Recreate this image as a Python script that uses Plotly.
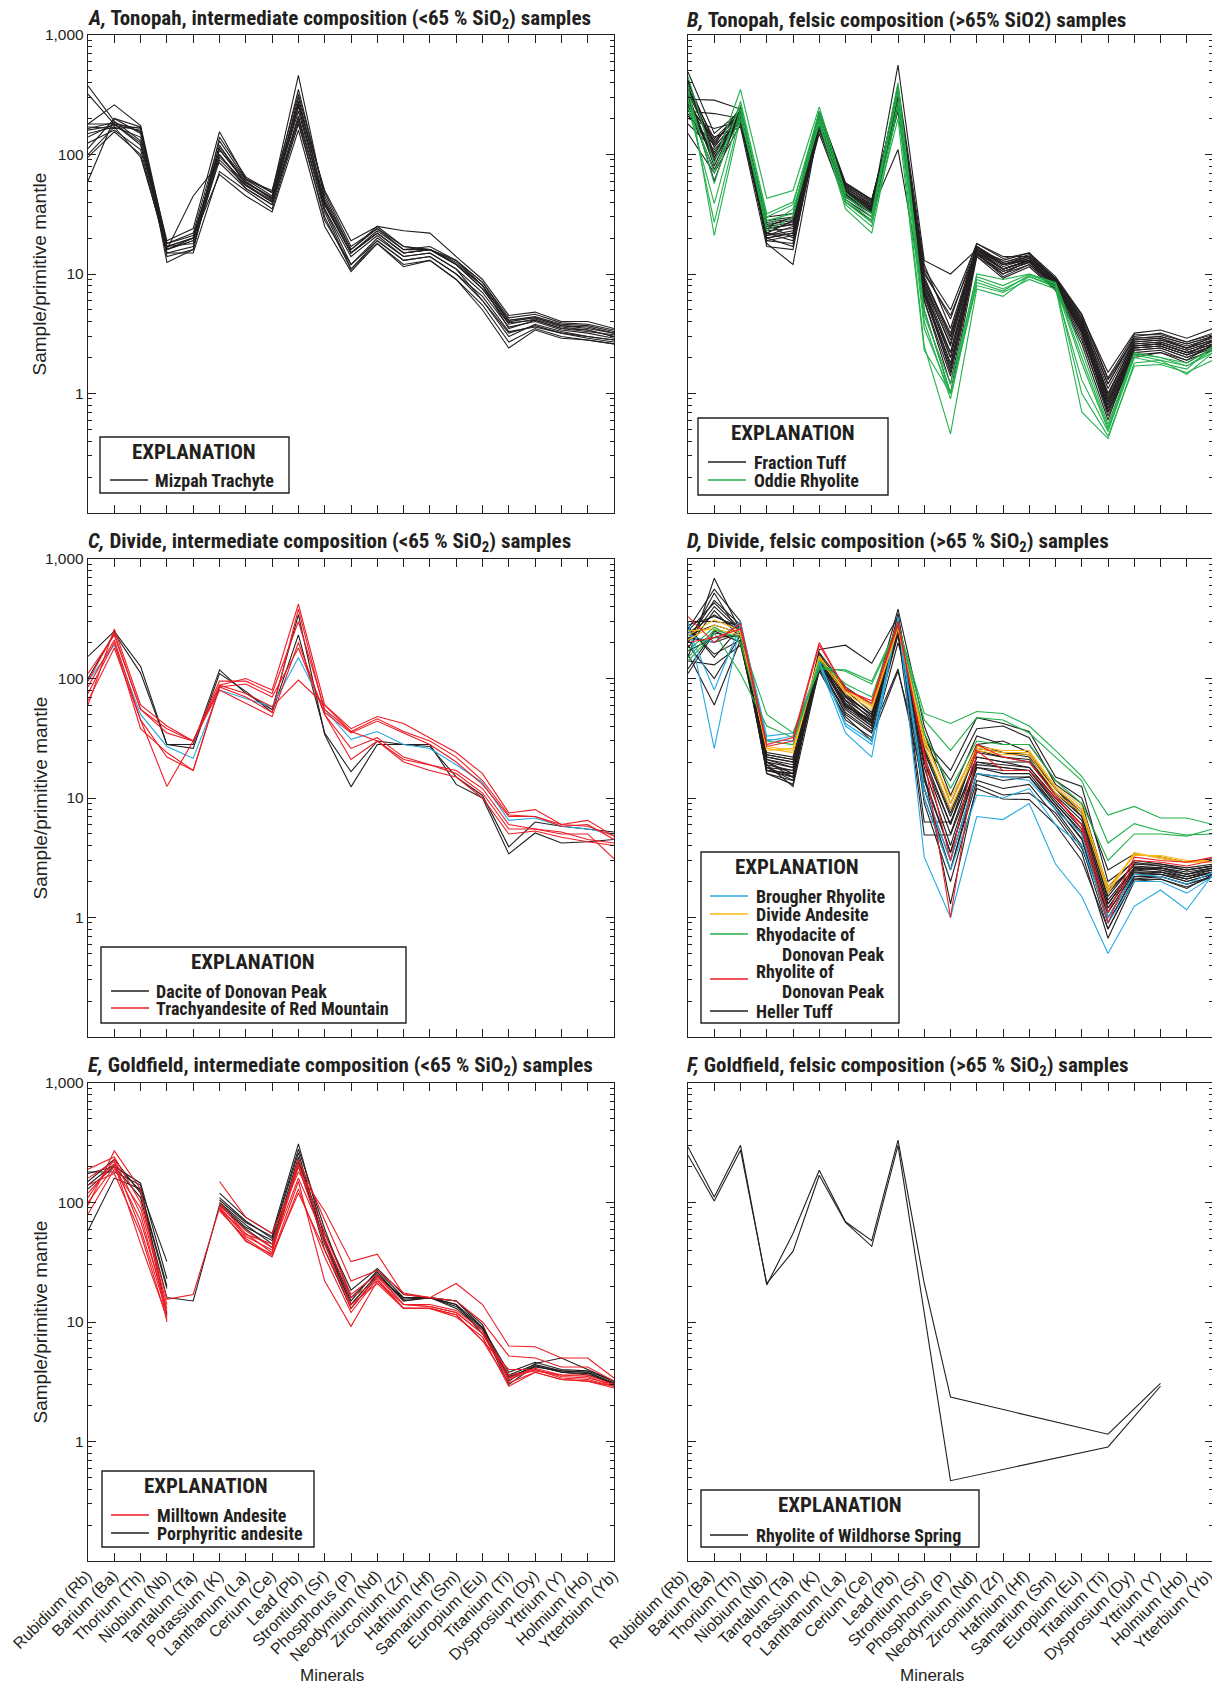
import plotly.graph_objects as go

elements = ["Rubidium (Rb)", "Barium (Ba)", "Thorium (Th)", "Niobium (Nb)", "Tantalum (Ta)",
            "Potassium (K)", "Lanthanum (La)", "Cerium (Ce)", "Lead (Pb)", "Strontium (Sr)",
            "Phosphorus (P)", "Neodymium (Nd)", "Zirconium (Zr)", "Hafnium (Hf)", "Samarium (Sm)",
            "Europium (Eu)", "Titanium (Ti)", "Dysprosium (Dy)", "Yttrium (Y)", "Holmium (Ho)",
            "Ytterbium (Yb)"]

ytick_vals = [1, 10, 100, 1000]
ytick_text = ["1", "10", "100", "1,000"]

# ---------------- Panel A: Tonopah intermediate ----------------
a_mizpah = [
    [375, 190, 130, 17, 20, 110, 60, 42, 300, 40, 15, 22, 15, 16, 12, 7.5, 3.8, 4.2, 3.6, 3.4, 3.0],
    [320, 180, 120, 16, 19, 100, 55, 40, 260, 35, 14, 21, 14, 15, 11, 7, 3.6, 4.0, 3.4, 3.2, 2.9],
    [180, 260, 175, 18, 22, 130, 62, 45, 350, 45, 16, 24, 16, 16, 13, 8.5, 4.3, 4.6, 3.9, 3.8, 3.4],
    [170, 165, 170, 15, 17, 95, 58, 44, 230, 38, 15, 22, 15, 16, 12, 8, 4.0, 4.3, 3.7, 3.6, 3.2],
    [160, 175, 160, 17, 18, 90, 55, 40, 210, 35, 12, 20, 14, 15, 11, 6, 3.0, 3.8, 3.3, 3.0, 2.8],
    [150, 170, 140, 18, 21, 100, 52, 38, 200, 33, 11, 19, 13, 14, 10, 6.5, 3.3, 3.6, 3.2, 2.9, 2.7],
    [140, 180, 125, 16, 19, 120, 56, 41, 250, 38, 15, 22, 15, 16, 12, 7.5, 3.9, 4.1, 3.5, 3.3, 3.1],
    [125, 160, 110, 15, 15, 72, 50, 35, 180, 30, 11, 18, 12, 13, 9, 5, 2.4, 3.4, 2.9, 2.8, 2.6],
    [112, 200, 150, 19, 24, 155, 63, 48, 460, 42, 16, 25, 23, 22, 14, 9, 4.5, 4.8, 4.0, 4.0, 3.5],
    [100, 170, 95, 17, 20, 68, 45, 33, 160, 25, 10.5, 18, 11.5, 13, 9, 5.5, 2.7, 3.5, 3.0, 2.8, 2.6],
    [60, 200, 170, 12.5, 16, 110, 58, 43, 280, 40, 15, 23, 16, 17, 13, 8, 4.1, 4.4, 3.8, 3.7, 3.3],
    [180, 180, 165, 16, 20, 115, 62, 50, 320, 48, 17, 24, 17, 16, 13, 8.5, 4.1, 4.3, 3.7, 3.5, 3.2],
    [95, 155, 100, 16, 45, 85, 52, 38, 190, 28, 12, 19, 13, 14, 10, 6, 3.2, 3.7, 3.2, 3.0, 2.8],
    [165, 185, 155, 14, 16, 140, 65, 48, 270, 50, 19, 25, 17, 16, 12.5, 8, 3.5, 4.1, 3.5, 3.4, 3.0],
]

# ---------------- Panel B: Tonopah felsic ----------------
b_fraction = [
    [490, 150, 230, 22, 28, 200, 50, 35, 560, 13, 10, 16, 13, 15, 9, 4.5, 1.5, 3.2, 3.4, 2.9, 3.5],
    [290, 285, 240, 18, 12, 180, 45, 33, 380, 12, 3.5, 17, 12, 13, 8.5, 4.2, 1.2, 3.0, 3.2, 2.7, 3.2],
    [230, 220, 200, 25, 30, 210, 52, 38, 340, 11, 5, 18, 14, 14, 9.2, 4.6, 1.3, 2.9, 3.0, 2.6, 3.0],
    [200, 165, 190, 30, 32, 230, 58, 42, 300, 10, 4.5, 16, 12, 14, 8.8, 4.0, 1.1, 2.8, 2.9, 2.5, 2.9],
    [350, 120, 250, 20, 22, 190, 55, 40, 320, 9, 3.0, 15, 11, 13, 8.5, 3.8, 1.0, 2.7, 2.8, 2.4, 2.8],
    [420, 100, 220, 24, 26, 200, 48, 36, 280, 8.5, 2.5, 17, 12, 14, 9, 4.2, 0.9, 2.6, 2.7, 2.3, 2.7],
    [260, 90, 210, 21, 25, 170, 44, 32, 250, 8, 2.2, 16, 11, 13, 8.2, 3.5, 0.85, 2.5, 2.6, 2.2, 2.6],
    [320, 80, 230, 26, 20, 160, 42, 30, 260, 7.5, 2.0, 15, 10, 12, 8.0, 3.3, 0.8, 2.4, 2.5, 2.1, 2.5],
    [180, 110, 195, 19, 18, 185, 50, 36, 300, 7, 1.8, 14, 10, 13, 7.8, 3.2, 0.75, 2.3, 2.4, 2.0, 2.4],
    [270, 130, 215, 23, 24, 220, 53, 37, 230, 6.5, 1.6, 16, 11.5, 13.5, 8.2, 3.6, 0.7, 2.2, 2.3, 1.9, 2.3],
    [380, 95, 200, 28, 30, 175, 47, 34, 110, 6, 1.4, 14.5, 10.5, 12.5, 7.5, 3.0, 0.65, 2.1, 2.2, 1.8, 2.4],
    [150, 70, 180, 20, 22, 150, 40, 28, 270, 6, 1.2, 15, 9.5, 12, 7.4, 2.8, 0.7, 2.0, 2.2, 1.9, 2.6],
    [250, 140, 170, 17, 16, 195, 48, 34, 330, 5, 1.0, 14, 9.2, 11.5, 7.3, 2.6, 0.6, 2.4, 2.5, 2.1, 2.8],
    [300, 60, 235, 27, 29, 210, 56, 42, 290, 9.5, 3.0, 17, 12.5, 14, 8.6, 3.9, 0.95, 2.8, 2.9, 2.4, 3.0],
    [220, 105, 205, 22, 21, 180, 50, 37, 350, 8, 2.6, 16, 12, 13, 8.4, 3.7, 0.9, 2.6, 2.7, 2.3, 2.7],
    [400, 125, 225, 25, 27, 200, 51, 35, 310, 7, 2.2, 15.5, 11, 13, 8, 3.4, 0.8, 2.5, 2.6, 2.2, 2.6],
    [330, 115, 215, 21, 23, 205, 52, 38, 300, 8.5, 2.8, 16.5, 12, 13.5, 8.7, 4.0, 1.0, 2.7, 2.8, 2.4, 2.8],
    [270, 95, 195, 24, 26, 190, 49, 35, 270, 7.5, 2.0, 15.5, 11, 13, 8.3, 3.6, 0.85, 2.5, 2.6, 2.2, 2.6],
    [360, 135, 225, 19, 21, 215, 54, 39, 320, 9, 3.2, 17, 12.5, 14.5, 9.2, 4.3, 1.2, 2.9, 3.0, 2.6, 3.0],
    [240, 75, 205, 22, 19, 185, 47, 33, 240, 6.8, 1.7, 14.5, 10.5, 12.5, 7.8, 3.2, 0.75, 2.4, 2.5, 2.1, 2.5],
    [310, 88, 240, 26, 28, 225, 57, 41, 300, 10.5, 4.2, 18, 13.5, 15, 9.5, 4.6, 1.35, 3.1, 3.1, 2.7, 3.1],
    [210, 120, 185, 20, 17, 170, 46, 33, 280, 7.2, 1.5, 15, 11, 12.8, 8.0, 3.4, 0.7, 2.3, 2.4, 2.0, 2.5],
]
b_oddie = [
    [450, 84, 350, 43, 50, 250, 48, 32, 400, 5, 1.0, 10, 9, 10, 8.5, 2.3, 0.55, 2.2, 2.0, 1.8, 2.4],
    [330, 57, 280, 32, 40, 200, 42, 28, 330, 4, 0.9, 9, 7.5, 9.5, 8, 1.8, 0.5, 2.1, 1.9, 1.7, 2.2],
    [250, 39, 240, 25, 35, 180, 38, 25, 280, 3.5, 1.0, 8, 7, 9, 7.5, 1.3, 0.48, 2.0, 1.8, 1.6, 2.5],
    [300, 27, 220, 23, 30, 190, 35, 22, 250, 2.5, 0.46, 7.5, 6.5, 9.5, 7.8, 0.7, 0.42, 1.8, 1.9, 1.45, 2.2],
    [380, 21, 200, 28, 32, 215, 40, 27, 200, 2.3, 1.0, 8.5, 7.2, 9.8, 8.2, 1.0, 0.44, 1.7, 1.75, 1.5, 1.9],
    [280, 70, 260, 30, 38, 230, 45, 30, 360, 4.5, 1.2, 9.5, 8, 10, 8.3, 2.0, 0.52, 2.15, 2.0, 1.7, 2.3],
]

# ---------------- Panel C: Divide intermediate ----------------
c_dacite = [
    [153, 248, 126, 28, 28, 118, 75, 55, 342, 34, 12.4, 28, 28, 28, 13, 10, 3.4, 5.1, 4.2, 4.3, 4.5],
    [100, 240, 111, 28, 26, 110, 78, 52, 232, 35, 16.6, 30, 28, 27, 15, 10.5, 3.9, 6.3, 5.8, 5.5, 5.2],
]
c_other = [
    [95, 191, 50, 27, 21.5, 80, 68, 58, 150, 55, 31, 36, 28, 26, 19, 13.5, 6.5, 6.8, 5.8, 5.5, 5.0],
]
c_trachy = [
    [60, 260, 60, 40, 30, 88, 100, 80, 420, 60, 38, 48, 42, 32, 24, 16, 7.5, 8, 6, 6.5, 4.8],
    [110, 230, 55, 38, 30, 95, 95, 75, 300, 55, 36, 46, 36, 30, 22, 14, 7.2, 7, 6, 5.8, 4.8],
    [85, 210, 45, 22, 17, 85, 90, 70, 180, 50, 26, 32, 22, 19, 16, 11, 5.5, 5.5, 5.2, 4.5, 4.2],
    [75, 200, 38, 24, 17, 88, 75, 58, 97, 60, 36, 30, 20, 17, 15, 10, 5, 5.3, 4.7, 4.3, 4.0],
    [65, 180, 45, 12.5, 30, 80, 62, 48, 200, 50, 21, 30, 21, 19, 17, 12, 6, 5.5, 5, 5, 3.1],
    [95, 240, 55, 35, 30, 85, 70, 52, 380, 52, 35, 44, 35, 28, 20, 13, 7, 7, 5.8, 6, 4.5],
]

# ---------------- Panel D: Divide felsic ----------------
d_heller = [
    [150, 690, 250, 18, 15, 150, 75, 48, 300, 20, 5, 22, 20, 18, 10, 6, 1.2, 2.5, 2.6, 2.3, 2.5],
    [200, 520, 230, 20, 18, 140, 70, 45, 280, 22, 6, 28, 24, 22, 12, 7, 1.5, 2.8, 2.7, 2.5, 2.7],
    [250, 430, 260, 17, 16, 160, 80, 52, 320, 25, 7, 25, 22, 20, 11, 7.5, 1.8, 3.0, 2.8, 2.6, 2.8],
    [180, 370, 220, 22, 20, 130, 65, 42, 260, 18, 4, 20, 18, 17, 9, 5, 1.0, 2.3, 2.4, 2.1, 2.4],
    [300, 300, 280, 24, 22, 145, 60, 40, 350, 15, 3.5, 18, 16, 16, 8.5, 4.5, 0.9, 2.2, 2.3, 2.0, 2.3],
    [120, 250, 200, 19, 12.5, 120, 55, 38, 240, 12, 3.0, 16, 14, 15, 8, 4, 0.8, 2.1, 2.2, 1.9, 2.2],
    [220, 200, 240, 16, 14, 135, 50, 35, 230, 10, 2.5, 14, 12, 13, 7, 3.5, 0.67, 2.0, 2.1, 1.8, 2.2],
    [260, 160, 210, 21, 19, 175, 190, 134, 330, 9, 2, 12, 9.8, 9.7, 6, 3, 0.8, 2.07, 2.1, 1.75, 2.3],
    [140, 130, 190, 23, 21, 125, 45, 32, 115, 16, 1.3, 13, 10.6, 11, 7.5, 3.8, 1.1, 2.4, 2.3, 2.1, 2.4],
    [190, 100, 230, 18, 17, 150, 60, 42, 290, 30, 17, 47, 42, 36, 15, 12.5, 2.0, 2.9, 2.7, 2.5, 2.7],
    [270, 150, 270, 20, 15, 140, 58, 45, 270, 28, 14, 38, 40, 32, 13, 9, 1.7, 2.7, 2.6, 2.4, 2.6],
    [160, 60, 210, 17, 16, 115, 48, 30, 200, 35, 9, 28, 30, 24, 12, 8, 1.4, 2.6, 2.5, 2.3, 2.6],
    [210, 450, 280, 16, 13, 165, 85, 60, 380, 40, 10.5, 33, 28, 28, 14, 10, 2.5, 3.4, 3.2, 2.9, 3.1],
    [240, 340, 250, 22, 20, 150, 72, 50, 310, 26, 8, 24, 22, 21, 11, 7, 1.3, 2.6, 2.5, 2.2, 2.5],
    [230, 280, 240, 19, 17, 140, 62, 44, 260, 6.3, 6.3, 20, 19, 18, 10, 6, 1.2, 2.5, 2.4, 2.2, 2.4],
    [170, 220, 230, 20, 16, 135, 57, 40, 250, 4.9, 4.9, 18, 17, 17, 9, 5.2, 1.0, 2.3, 2.3, 2.0, 2.3],
    [280, 330, 270, 23, 21, 150, 66, 47, 300, 20, 6, 22, 20, 20, 10.5, 6.5, 1.3, 2.6, 2.6, 2.3, 2.6],
    [200, 400, 250, 18, 14, 145, 60, 43, 290, 14, 3.5, 19, 18, 17, 9.5, 5.5, 1.1, 2.4, 2.4, 2.1, 2.4],
    [110, 240, 220, 21, 18, 120, 52, 36, 120, 12, 2.5, 16, 15, 15, 8.5, 4.6, 0.9, 2.2, 2.2, 1.9, 2.2],
    [260, 560, 300, 17, 15, 160, 70, 50, 330, 24, 7.5, 26, 24, 23, 12, 7.5, 1.6, 2.8, 2.8, 2.5, 2.7],
]
d_brougher = [
    [300, 26, 290, 33, 35, 130, 35, 22, 330, 3.2, 1.0, 7, 6.6, 9, 2.8, 1.5, 0.5, 1.24, 1.7, 1.16, 2.3],
    [230, 200, 300, 30, 33, 140, 40, 28, 300, 10, 2.5, 10.6, 10, 12, 6, 4, 1.0, 2.3, 2.2, 1.9, 2.4],
    [260, 80, 280, 31, 30, 135, 42, 30, 310, 12, 3, 16, 15, 14, 8, 5, 0.9, 2.0, 2.0, 1.6, 2.2],
]
d_andesite = [
    [230, 310, 250, 25, 26, 150, 80, 60, 270, 30, 10, 26, 24, 24, 12, 8, 1.8, 3.3, 3.3, 3.0, 3.0],
    [210, 280, 240, 26, 24, 145, 75, 55, 260, 28, 8, 25, 23, 23, 11, 7.5, 1.6, 3.5, 3.1, 2.9, 3.0],
    [250, 260, 230, 27, 25, 155, 78, 58, 280, 32, 9, 27, 25, 25, 12.5, 8.5, 1.7, 3.4, 3.2, 2.9, 2.9],
]
d_rhyodacite = [
    [150, 255, 220, 50, 35, 120, 118, 95, 280, 51, 42, 53, 51, 40, 25, 15.2, 7.2, 8.5, 6.8, 6.8, 6.0],
    [140, 240, 110, 40, 32, 125, 115, 90, 270, 45, 25, 47, 45, 35, 22, 14, 4.2, 6.1, 5.3, 4.9, 5.0],
    [170, 270, 200, 30, 28, 140, 90, 70, 300, 35, 12, 30, 28, 28, 14, 9, 3.0, 5.0, 5.0, 4.8, 5.5],
]
d_rhyolite = [
    [330, 200, 290, 28, 32, 200, 80, 65, 300, 22, 1.0, 25, 17, 17, 10, 6, 1.1, 3.2, 3.0, 2.9, 3.2],
    [200, 220, 260, 27, 30, 190, 82, 62, 280, 24, 3, 28, 22, 20, 10.5, 5.5, 0.9, 3.0, 2.9, 2.7, 3.0],
]

# ---------------- Panel E: Goldfield intermediate ----------------
e_milltown = [
    [95, 270, 130, 10, None, 150, 75, 55, 180, 85, 32, 37, 17, 16, 21, 14, 6.3, 6.2, 5.0, 5.0, 3.4],
    [190, 240, 100, 15.5, 17, 90, 55, 38, 230, 70, 22, 27, 17.5, 16, 15, 10, 5.2, 5.0, 4.2, 4.2, 3.2],
    [160, 220, 60, 12, None, 85, 50, 36, 150, 22, 9.2, 22, 13, 13, 11.5, 7, 4.0, 4.0, 3.4, 3.3, 2.9],
    [120, 210, 45, 11, None, 88, 48, 35, 130, 35, 12, 23, 13, 13, 11, 7.5, 2.9, 3.8, 3.3, 3.2, 2.9],
    [100, 200, 70, 13, None, 92, 52, 40, 200, 45, 13, 24, 14, 13.5, 12, 8, 3.3, 4.0, 3.5, 3.4, 3.0],
    [80, 190, 90, 14, None, 95, 58, 42, 160, 50, 16, 22, 14, 14, 12.5, 8.5, 3.6, 3.9, 3.6, 3.5, 2.9],
    [140, 175, 55, 10.5, None, 90, 47, 37, 120, 40, 14, 21, 13, 13, 11.5, 7, 3.1, 3.8, 3.3, 3.2, 2.8],
    [110, 230, 80, 12, None, 100, 54, 45, 210, 55, 17, 25, 14, 13.5, 12, 8, 3.4, 4.1, 3.6, 3.6, 3.0],
]
e_porphyritic = [
    [58, 160, 130, 32, None, 120, 75, 55, 310, 50, 15, 27, 16, 16, 15, 9.5, 3.2, 4.5, 5.0, 4.0, 3.2],
    [130, 200, 145, 23, None, 110, 70, 50, 260, 45, 14, 25, 15, 16, 14, 9, 3.5, 4.2, 3.9, 3.8, 3.0],
    [150, 230, 120, 19, None, 100, 65, 45, 240, 40, 13, 24, 16, 16, 13, 8.5, 3.0, 4.3, 3.8, 3.6, 3.1],
    [175, 200, 110, 16, 15, 95, 60, 42, 220, 55, 18.5, 28, 17, 16, 15, 9, 3.8, 4.6, 4.0, 3.9, 3.2],
    [180, 180, 140, 11.5, None, 105, 68, 52, 280, 60, 16, 26, 15, 16, 14, 8, 3.6, 4.4, 3.9, 3.8, 3.1],
    [140, 210, 125, 20, None, 98, 62, 48, 200, 48, 14, 25, 15.5, 16, 13.5, 8.8, 3.4, 4.3, 3.8, 3.7, 3.0],
]

# ---------------- Panel F: Goldfield felsic ----------------
f_wildhorse = [
    [292, 111, 301, 20.4, 55, 186, 69, 48, 332, 21, 2.35, None, None, None, None, None, 1.15, None, 3.07, None, None],
    [249, 103, 274, 21, 39, 169, 68, 43, 301, None, 0.47, None, None, None, None, None, 0.9, None, 2.9, None, None],
]

BLACK = "#231f20"
GREEN = "#22b04b"
RED = "#ed1c24"
BLUE = "#27aae1"
YELLOW = "#fdb714"

COND = "Liberation Sans Narrow, Arial Narrow, Roboto Condensed, DejaVu Sans Condensed, sans-serif"
REG = "Liberation Sans, Arial, sans-serif"

# The page body has an 8 px margin: size the figure so it fits the 1220 x 1690 window.
OFF = 8
W, H = 1220 - OFF, 1690 - 2 * OFF


def px(x):
    return (x - OFF) / W


def py(y):
    return 1 - (y - OFF) / H


col_px = [(88, 614), (688, 1213)]
row_px = [(35, 513), (559, 1037), (1083, 1561)]

fig = go.Figure()

panels = [
    (1, [(BLACK, a_mizpah)], False),
    (2, [(BLACK, b_fraction), (GREEN, b_oddie)], False),
    (3, [(BLACK, c_dacite), (BLUE, c_other), (RED, c_trachy)], False),
    (4, [(BLACK, d_heller), (BLUE, d_brougher), (YELLOW, d_andesite), (GREEN, d_rhyodacite), (RED, d_rhyolite)], False),
    (5, [(BLACK, e_porphyritic), (RED, e_milltown)], False),
    (6, [(BLACK, f_wildhorse)], True),
]

for idx, groups, cg in panels:
    xa = "x" if idx == 1 else f"x{idx}"
    ya = "y" if idx == 1 else f"y{idx}"
    for color, lines in groups:
        for vals in lines:
            fig.add_trace(go.Scatter(
                x=elements, y=vals, mode="lines",
                line=dict(color=color, width=1.1),
                showlegend=False, xaxis=xa, yaxis=ya,
                connectgaps=cg, hoverinfo="skip"))

layout = dict(width=W, height=H, margin=dict(l=0, r=0, t=0, b=0, pad=0, autoexpand=False),
              paper_bgcolor="white", plot_bgcolor="white", showlegend=False,
              font=dict(family=REG, color="black"))

for idx in range(1, 7):
    r = (idx - 1) // 2
    c = (idx - 1) % 2
    x0, x1 = col_px[c]
    y0, y1 = row_px[r]
    xk = "xaxis" if idx == 1 else f"xaxis{idx}"
    yk = "yaxis" if idx == 1 else f"yaxis{idx}"
    ya = "y" if idx == 1 else f"y{idx}"
    xa = "x" if idx == 1 else f"x{idx}"
    layout[xk] = dict(domain=[px(x0), min(1.0, px(x1))], anchor=ya, type="category",
                      categoryorder="array", categoryarray=elements,
                      range=[0, 20], tickmode="array", tickvals=elements, ticktext=elements,
                      ticks="inside", ticklen=8, tickwidth=1, tickcolor=BLACK,
                      mirror="allticks", showline=True, linecolor=BLACK, linewidth=1.4,
                      showgrid=False, zeroline=False, tickangle=-45, automargin=False,
                      showticklabels=(r == 2), ticklabelshift=(-1 if c == 0 else -5),
                      ticklabelstandoff=-2,
                      tickfont=dict(family=REG, size=16, color=BLACK))
    layout[yk] = dict(domain=[py(y1), py(y0)], anchor=xa, type="log",
                      range=[-1, 3], tickmode="array", tickvals=ytick_vals, ticktext=ytick_text,
                      ticks="inside", ticklen=8, tickwidth=1, tickcolor=BLACK,
                      mirror="allticks", showline=True, linecolor=BLACK, linewidth=1.4,
                      showgrid=False, zeroline=False, showticklabels=(c == 0), automargin=False,
                      tickfont=dict(family=REG, size=15.5, color=BLACK),
                      minor=dict(ticks="inside", ticklen=4, tickwidth=1, tickcolor=BLACK,
                                 dtick="D1", showgrid=False))

titles = [
    (86, 20, "<i>A,</i> Tonopah, intermediate composition (&lt;65 % SiO<sub>2</sub>) samples"),
    (685, 20, "<i>B,</i> Tonopah, felsic composition (&gt;65% SiO2) samples"),
    (86, 542, "<i>C,</i> Divide, intermediate composition (&lt;65 % SiO<sub>2</sub>) samples"),
    (685, 542, "<i>D,</i> Divide, felsic composition (&gt;65 % SiO<sub>2</sub>) samples"),
    (86, 1066, "<i>E,</i> Goldfield, intermediate composition (&lt;65 % SiO<sub>2</sub>) samples"),
    (685, 1066, "<i>F,</i> Goldfield, felsic composition (&gt;65 % SiO<sub>2</sub>) samples"),
]

annotations = []
shapes = []
for tx, ty, txt in titles:
    annotations.append(dict(x=px(tx), y=py(ty), xref="paper", yref="paper",
                            xanchor="left", yanchor="middle", showarrow=False,
                            text="<b>" + txt + "</b>",
                            font=dict(family=COND, size=21, color=BLACK)))
for r in range(3):
    y0, y1 = row_px[r]
    annotations.append(dict(x=px(39.5), y=py((y0 + y1) / 2), xref="paper", yref="paper",
                            xanchor="center", yanchor="middle", showarrow=False, textangle=-90,
                            text="Sample/primitive mantle",
                            font=dict(family=REG, size=19, color=BLACK)))
for mx in (332, 932):
    annotations.append(dict(x=px(mx), y=py(1675), xref="paper", yref="paper",
                            xanchor="center", yanchor="middle", showarrow=False,
                            text="Minerals", font=dict(family=REG, size=17, color=BLACK)))

# Explanation boxes: box (x0, y0, x1, y1), title centre (x, y), entries [(line_y, color, text_x, text_y, text)]
legends = [
    ((100, 437, 289, 493), (194, 452), [(480, BLACK, 154, 480, "Mizpah Trachyte")], 110),
    ((698, 418, 888, 495), (793, 433), [(462, BLACK, 753, 462, "Fraction Tuff"),
                                        (480, GREEN, 753, 480, "Oddie Rhyolite")], 708),
    ((101, 947, 406, 1023), (253, 962), [(991, BLACK, 155, 991, "Dacite of Donovan Peak"),
                                         (1008, RED, 155, 1008, "Trachyandesite of Red Mountain")], 111),
    ((701, 852, 899, 1023), (797, 867), [(896, BLUE, 755, 896, "Brougher Rhyolite"),
                                         (914, YELLOW, 755, 914, "Divide Andesite"),
                                         (934, GREEN, 755, 934, "Rhyodacite of"),
                                         (None, None, 781, 954, "Donovan Peak"),
                                         (979, RED, 755, 971, "Rhyolite of"),
                                         (None, None, 781, 991, "Donovan Peak"),
                                         (1011, BLACK, 755, 1011, "Heller Tuff")], 710),
    ((102, 1471, 314, 1547), (206, 1486), [(1515, RED, 156, 1515, "Milltown Andesite"),
                                           (1533, BLACK, 156, 1533, "Porphyritic andesite")], 111),
    ((701, 1490, 979, 1547), (840, 1505), [(1535, BLACK, 755, 1535, "Rhyolite of Wildhorse Spring")], 710),
]

for (bx0, by0, bx1, by1), (tcx, tcy), entries, lx0 in legends:
    shapes.append(dict(type="rect", xref="paper", yref="paper",
                       x0=px(bx0), x1=px(bx1), y0=py(by1), y1=py(by0),
                       line=dict(color=BLACK, width=1.4), fillcolor="white", layer="above"))
    annotations.append(dict(x=px(tcx), y=py(tcy), xref="paper", yref="paper",
                            xanchor="center", yanchor="middle", showarrow=False,
                            text="<b>EXPLANATION</b>",
                            font=dict(family=COND, size=21, color=BLACK)))
    for ly, lc, tx, ty, txt in entries:
        if ly is not None:
            shapes.append(dict(type="line", xref="paper", yref="paper",
                               x0=px(lx0), x1=px(lx0 + 38), y0=py(ly), y1=py(ly),
                               line=dict(color=lc, width=1.3), layer="above"))
        annotations.append(dict(x=px(tx), y=py(ty), xref="paper", yref="paper",
                                xanchor="left", yanchor="middle", showarrow=False,
                                text="<b>" + txt + "</b>", borderpad=0,
                                font=dict(family=COND, size=18, color=BLACK)))

layout["annotations"] = annotations
layout["shapes"] = shapes

fig.update_layout(**layout)
fig.write_html("out.html")
